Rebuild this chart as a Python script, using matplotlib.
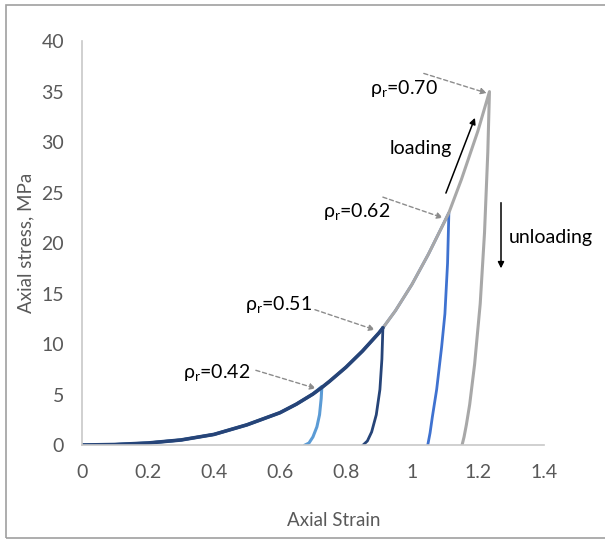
import matplotlib
matplotlib.use("Agg")
import matplotlib.pyplot as plt
from matplotlib.patches import Rectangle

plt.rcParams["font.family"] = ["Lato", "DejaVu Sans"]
plt.rcParams["mathtext.fontset"] = "custom"
plt.rcParams["mathtext.rm"] = "Lato"
plt.rcParams["mathtext.it"] = "Lato:italic"

# loading branch (shared envelope)
load_strain = [0, 0.1, 0.2, 0.3, 0.4, 0.5, 0.6, 0.65, 0.7, 0.727, 0.75, 0.8,
               0.85, 0.9, 0.912, 0.95, 1.0, 1.05, 1.1, 1.112, 1.15, 1.2, 1.235]
load_stress = [0, 0.05, 0.2, 0.5, 1.05, 2.0, 3.2, 4.05, 5.05, 5.7, 6.3, 7.7,
               9.3, 11.1, 11.6, 13.3, 15.9, 18.9, 22.2, 23.0, 26.3, 31.1, 35.0]

# unloading branches
unl_070_strain = [1.235, 1.23, 1.22, 1.207, 1.19, 1.175, 1.165, 1.158, 1.152]
unl_070_stress = [35.0, 29.0, 21.0, 14.0, 8.0, 4.0, 2.0, 0.8, 0.0]
unl_062_strain = [1.112, 1.108, 1.1, 1.09, 1.075, 1.062, 1.055, 1.048]
unl_062_stress = [23.0, 18.0, 13.0, 9.7, 5.5, 2.8, 1.2, 0.0]
unl_051_strain = [0.912, 0.909, 0.903, 0.892, 0.878, 0.865, 0.852]
unl_051_stress = [11.6, 8.5, 5.5, 3.0, 1.3, 0.4, 0.0]
unl_042_strain = [0.727, 0.725, 0.72, 0.712, 0.7, 0.688, 0.676]
unl_042_stress = [5.8, 4.6, 3.0, 1.8, 0.8, 0.2, 0.0]


def branch(us, uy):
    peak = us[0]
    xs = [x for x in load_strain if x < peak]
    ys = load_stress[:len(xs)]
    return xs + us, ys + uy


f = plt.figure(figsize=(6.05, 5.41), dpi=100)
ax = f.add_axes([0.1355, 0.1774, 0.7635, 0.7466])

x, y = branch(unl_062_strain, unl_062_stress)
ax.plot(x, y, c="#3F72D0", lw=2.0, solid_joinstyle="round")
x, y = branch(unl_070_strain, unl_070_stress)
ax.plot(x, y, c="#A8A8A8", lw=2.2, solid_joinstyle="round")
x, y = branch(unl_042_strain, unl_042_stress)
ax.plot(x, y, c="#5B9BD5", lw=2.2, solid_joinstyle="round")
x, y = branch(unl_051_strain, unl_051_stress)
n = len(x) - len(unl_051_strain)
ax.plot(x[:n + 1], y[:n + 1], c="#264478", lw=2.6, solid_capstyle="round")
ax.plot(x[n:], y[n:], c="#264478", lw=2.0, solid_joinstyle="round")

ax.set_xlim(0, 1.4)
ax.set_ylim(0, 40)
ax.set_xticks([0, 0.2, 0.4, 0.6, 0.8, 1, 1.2, 1.4])
ax.set_xticklabels(["0", "0.2", "0.4", "0.6", "0.8", "1", "1.2", "1.4"])
ax.set_yticks(range(0, 41, 5))
ax.tick_params(length=0, labelsize=14, colors="#595959")
ax.tick_params(axis="x", pad=14)
ax.tick_params(axis="y", pad=13)
for s in ["top", "right"]:
    ax.spines[s].set_visible(False)
ax.spines["left"].set_color("#C8C8C8")
ax.spines["bottom"].set_color("#C8C8C8")
ax.spines["left"].set_linewidth(1.2)
ax.spines["bottom"].set_linewidth(1.2)

ax.set_xlabel("Axial Strain", fontsize=13.5, color="#595959")
ax.xaxis.set_label_coords(0.545, -0.165)
ax.set_ylabel("Axial stress, MPa", fontsize=13.5, color="#595959")
ax.yaxis.set_label_coords(-0.102, 0.5)

dash = dict(arrowstyle="-|>", color="#8C8C8C", lw=1.0, ls=(0, (3, 2)),
            mutation_scale=9, shrinkA=0, shrinkB=0)
labels = [r"ρ$_\mathrm{r}$=0.70", r"ρ$_\mathrm{r}$=0.62",
          r"ρ$_\mathrm{r}$=0.51", r"ρ$_\mathrm{r}$=0.42"]
text_pos = [(0.873, 35.3), (0.730, 23.1), (0.494, 13.9), (0.306, 7.2)]
arr_start = [(1.036, 36.8), (0.912, 24.55), (0.706, 13.4), (0.527, 7.4)]
arr_end = [(1.227, 34.85), (1.094, 22.5), (0.888, 11.4), (0.709, 5.6)]
for lab, tp, a0, a1 in zip(labels, text_pos, arr_start, arr_end):
    ax.text(tp[0], tp[1], lab, fontsize=14, color="black", va="center", ha="left")
    ax.annotate("", xy=a1, xytext=a0, arrowprops=dash)

solid = dict(arrowstyle="-|>", color="black", lw=1.1, mutation_scale=9,
             shrinkA=0, shrinkB=0)
ax.text(0.933, 29.4, "loading", fontsize=14, va="center", ha="left")
ax.annotate("", xy=(1.191, 32.4), xytext=(1.103, 24.95), arrowprops=solid)
ax.text(1.294, 20.6, "unloading", fontsize=14, va="center", ha="left")
ax.annotate("", xy=(1.270, 17.5), xytext=(1.270, 24.0), arrowprops=solid,
            annotation_clip=False)

f.patches.append(Rectangle((6 / 605, 3 / 541), 1.2, 1 - 8 / 541, transform=f.transFigure,
                           fill=False, ec="#A0A0A0", lw=1.2))

f.savefig("out.png", dpi=100)
